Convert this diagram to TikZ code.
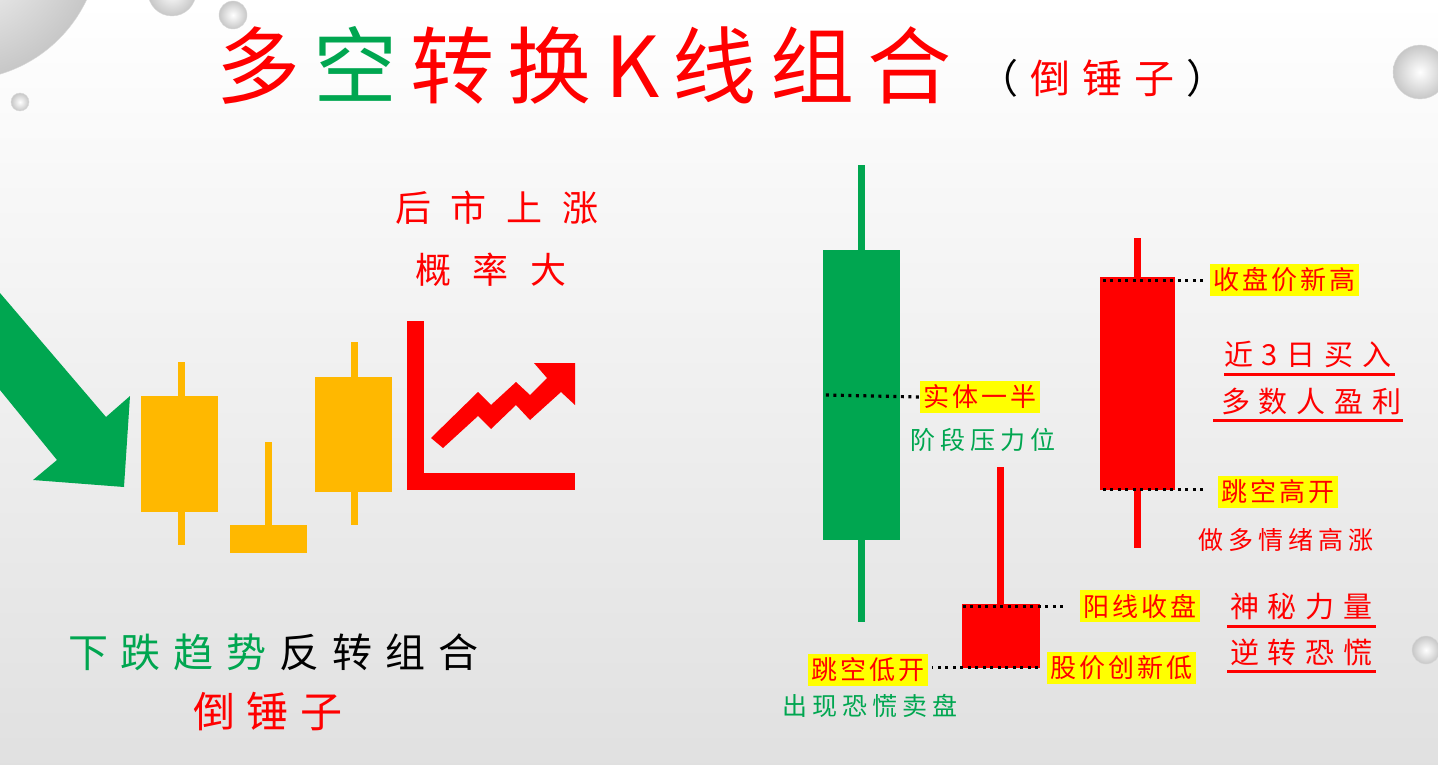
\documentclass[tikz,border=0pt]{standalone}
\usepackage{fontspec}
\newfontfamily\cjk{Noto Sans CJK SC}
\newcommand{\cjkfont}[2]{\cjk\fontsize{#1}{#1}\selectfont\addfontfeatures{LetterSpace=#2}}
\usetikzlibrary{positioning}
\definecolor{bullgreen}{HTML}{00A650}
\definecolor{candlegold}{HTML}{FFB800}
\definecolor{tagyellow}{HTML}{FFFF00}
\tikzset{
  txt/.style={inner sep=0pt, anchor=west},
  tag/.style={fill=tagyellow, text=red, inner xsep=3pt, inner ysep=4pt, anchor=west, font=\cjkfont{26}{12}},
  note/.style={txt, font=\cjkfont{25}{20}},
  bignote/.style={txt, text=red, font=\cjkfont{29}{30}},
  body/.style={inner sep=0pt, minimum width=#1},
  dots/.style={line width=3.2pt, dash pattern=on 3pt off 4.5pt},
  uline/.style={red, line width=2.5pt},
  bubble/.style={inner color=white, outer color=black!22, draw=black!15}
}
\begin{document}
\begin{tikzpicture}[x=1pt, y=-1pt]
\useasboundingbox (0,0) rectangle (1438,765);
\shade[top color=white, bottom color=black!12] (0,0) rectangle (1438,765);
\begin{scope}
\clip (0,0) rectangle (1438,765);
\shade[bubble] (-40,-60) circle (140);
\shade[bubble] (172,-8) circle (24);
\shade[bubble] (233,15) circle (14);
\shade[bubble] (20,102) circle (9);
\shade[bubble] (1420,72) circle (27);
\shade[bubble] (1426,650) circle (14);
\end{scope}

% title
\node[txt, font=\cjkfont{84}{16}] (title) at (216,65) {{\color{red}多}\kern13pt{\color{bullgreen}空}\kern13pt{\color{red}转换K线组合}};
\node[txt, font=\cjkfont{40}{30}] (subtitle) at (978,78) {（\kern12pt{\color{red}倒锤子}\kern12pt）};

% left: trend
\fill[bullgreen] (0,293) -- (106,417) -- (130,396) -- (124,487) -- (33,480) -- (57,460) -- (0,390) -- cycle;
\fill[candlegold] (178,362) rectangle (185,545);
\fill[candlegold] (141,396) rectangle (218,512);
\fill[candlegold] (265,442) rectangle (272,525);
\fill[candlegold] (230,525) rectangle (307,553);
\fill[candlegold] (351,342) rectangle (358,525);
\fill[candlegold] (315,377) rectangle (392,492);
\fill[red] (407,321) rectangle (424,490);
\fill[red] (407,473) rectangle (575,490);
\fill[red] (431,438) -- (478,392) -- (491,405) -- (516,382) -- (530,395) -- (547,378) -- (534,363) -- (575,363) -- (575,405) -- (561,392) -- (530,420) -- (516,405) -- (491,429) -- (478,416) -- (443,448) -- cycle;
\node[txt, text=red, font=\cjkfont{36}{55}] (rise) at (395,208) {后市上涨};
\node[txt, text=red, font=\cjkfont{36}{60}] (prob) at (415,270) {概率大};
\node[txt, font=\cjkfont{40}{32}] (combo) at (68,652) {{\color{bullgreen}下跌趋势}\kern13pt 反转组合};
\node[txt, text=red, font=\cjkfont{42}{28}] (name) at (193,712) {倒锤子};

% right: candles
\fill[bullgreen] (858,165) rectangle (865,622);
\node[body=77pt, minimum height=290pt, fill=bullgreen] (gbody) at (861.5,395) {};
\fill[red] (997,467) rectangle (1004,604);
\node[body=78pt, minimum height=64pt, fill=red] (sbody) at (1001,636) {};
\fill[red] (1134,238) rectangle (1141,548);
\node[body=75pt, minimum height=213pt, fill=red] (rbody) at (1137.5,383.5) {};

\node[tag] (half) at (920,397) {实体一半};
\node[note, text=bullgreen] (press) at (910,440) {阶段压力位};
\node[tag] (closehi) at (1210,280) {收盘价新高};
\node[tag] (gapup) at (1218,492) {跳空高开};
\node[note, text=red] (bull) at (1198,540) {做多情绪高涨};
\node[tag] (yang) at (1080,606) {阳线收盘};
\node[tag] (gapdn) at (808,670) {跳空低开};
\node[tag] (newlow) at (1047,668) {股价创新低};
\node[note, text=bullgreen] (panic) at (782,706) {出现恐慌卖盘};

\draw[dots] ([xshift=3pt]gbody.west) -- (half.west);
\draw[dots] ([shift={(3pt,-4pt)}]rbody.north west) coordinate (p1) -- ([xshift=-6pt]p1 -| closehi.west);
\draw[dots] ([shift={(3pt,1pt)}]rbody.south west) coordinate (p2) -- ([xshift=-13pt]p2 -| gapup.west);
\draw[dots] ([shift={(1pt,-3pt)}]sbody.north west) coordinate (p3) -- ([xshift=-15pt]p3 -| yang.west);
\draw[dots] ([shift={(-2pt,1pt)}]sbody.south east) coordinate (p4) -- ([xshift=4pt]p4 -| gapdn.east);

\node[bignote] (recent) at (1224,355) {近3日买入};
\node[bignote] (profit) at (1221,401) {多数人盈利};
\draw[uline] (recent.south west) ++(0,6) coordinate (u1) -- ([xshift=-6pt]u1 -| profit.south east);
\draw[uline] ([xshift=-8pt]profit.south west) ++(0,6) coordinate (u2) -- ([xshift=2pt]u2 -| profit.south east);
\node[bignote] (power) at (1230,607) {神秘力量};
\node[bignote] (revert) at (1230,652) {逆转恐慌};
\draw[uline] ([xshift=-3pt]power.south west) ++(0,6) coordinate (u3) -- ([xshift=3pt]u3 -| power.south east);
\draw[uline] ([xshift=-3pt]revert.south west) ++(0,6) coordinate (u4) -- ([xshift=3pt]u4 -| revert.south east);
\end{tikzpicture}
\end{document}
